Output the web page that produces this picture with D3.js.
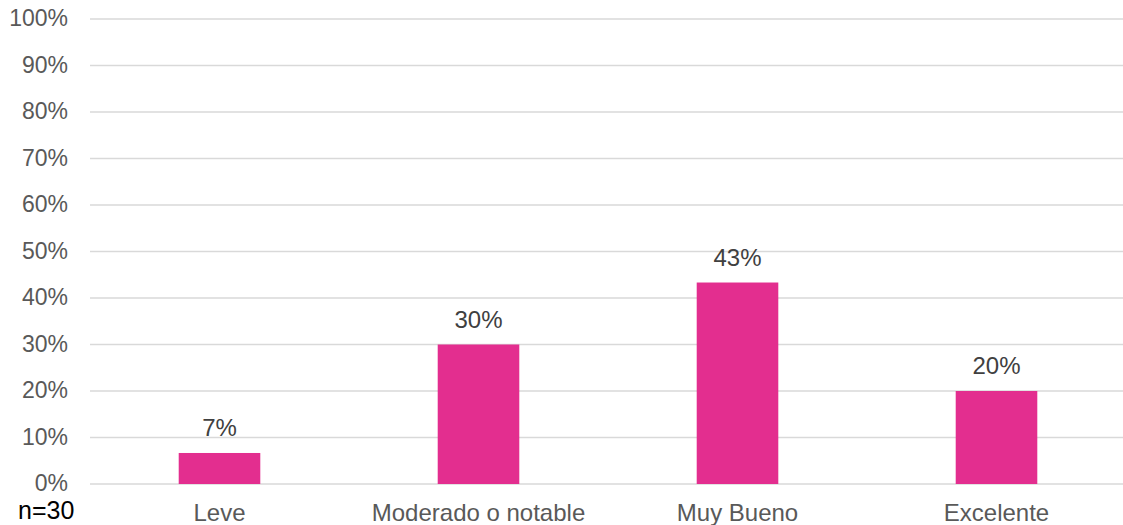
<!DOCTYPE html>
<html><head><meta charset="utf-8">
<script src="https://cdn.jsdelivr.net/npm/d3@7"></script>
<style>body{margin:0;background:#fff}svg{display:block;font-family:"Liberation Sans",Arial,sans-serif}</style>
</head><body><svg id="c" width="1123" height="525"></svg>
<script>
const categories = ["Leve", "Moderado o notable", "Muy Bueno", "Excelente"];
const values = [6.67, 30, 43.33, 20];
const valueLabels = ["7%", "30%", "43%", "20%"];
const yTicks = [0, 10, 20, 30, 40, 50, 60, 70, 80, 90, 100];
const note = "n=30";

(function () {
const svg = d3.select("#c");
const mLeft = 90, mRight = 1126, mTop = 19, mBottom = 484;
const x = d3.scaleBand().domain(categories).range([mLeft, mRight]).padding(0);
const y = d3.scaleLinear().domain([0, 100]).range([mBottom, mTop]);

// gridlines
svg.append("g").selectAll("line").data(yTicks).join("line")
  .attr("x1", mLeft).attr("x2", 1123)
  .attr("y1", d => y(d)).attr("y2", d => y(d))
  .attr("stroke", "#d9d9d9").attr("stroke-width", 1.5);

// y tick labels
svg.append("g").selectAll("text").data(yTicks).join("text")
  .attr("x", 68).attr("y", d => y(d)).attr("dy", "0.32em")
  .attr("text-anchor", "end").attr("font-size", 23).attr("fill", "#595959")
  .text(d => d + "%");

const bw = x.bandwidth() * 0.315;
svg.append("g").selectAll("rect").data(values).join("rect")
  .attr("x", (d, i) => x(categories[i]) + x.bandwidth() / 2 - bw / 2)
  .attr("width", bw)
  .attr("y", d => y(d)).attr("height", d => y(0) - y(d))
  .attr("fill", "#e32e8f");

svg.append("g").selectAll("text").data(values).join("text")
  .attr("x", (d, i) => x(categories[i]) + x.bandwidth() / 2)
  .attr("y", d => y(d) - 17)
  .attr("text-anchor", "middle").attr("font-size", 24).attr("fill", "#404040")
  .text((d, i) => valueLabels[i]);

svg.append("g").selectAll("text").data(categories).join("text")
  .attr("x", d => x(d) + x.bandwidth() / 2)
  .attr("y", 521)
  .attr("text-anchor", "middle").attr("font-size", 24).attr("fill", "#595959")
  .text(d => d);

svg.append("text").attr("x", 18).attr("y", 519)
  .attr("font-size", 25).attr("fill", "#000").text(note);
})();
</script></body></html>
